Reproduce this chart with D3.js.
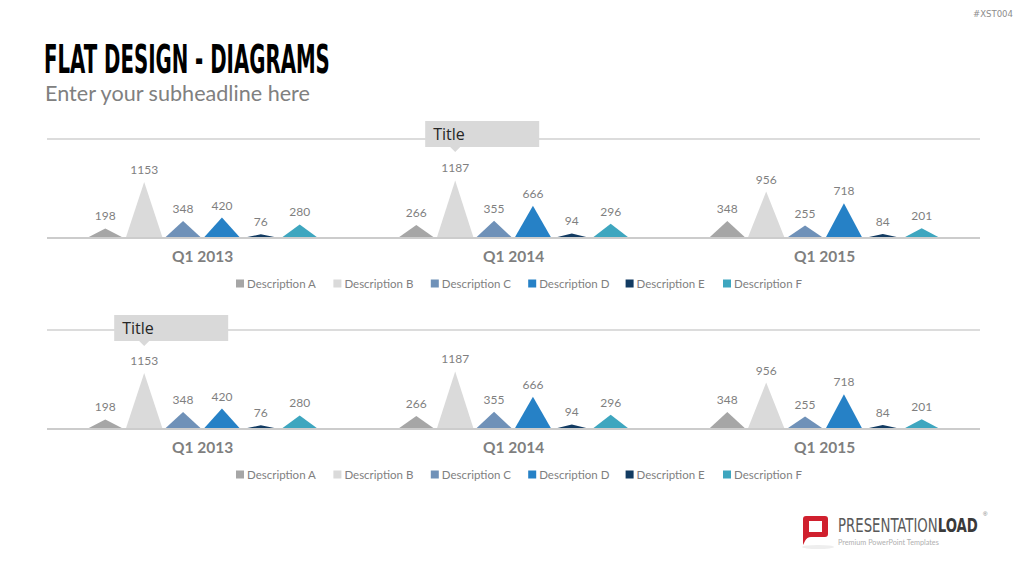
<!DOCTYPE html>
<html>
<head>
<meta charset="utf-8">
<script src="https://cdn.jsdelivr.net/npm/d3@7"></script>
<style>
  html, body { margin: 0; padding: 0; background: #ffffff; }
  svg { display: block; }
</style>
</head>
<body>
<svg id="chart" width="1024" height="576"></svg>
<script>
// ---------- data ----------
const categories = ["Q1 2013", "Q1 2014", "Q1 2015"];
const seriesNames = ["Description A", "Description B", "Description C", "Description D", "Description E", "Description F"];
const valuesA = [198, 266, 348];
const valuesB = [1153, 1187, 956];
const valuesC = [348, 355, 255];
const valuesD = [420, 666, 718];
const valuesE = [76, 94, 84];
const valuesF = [280, 296, 201];
const seriesColors = ["#a6a6a6", "#dadada", "#6f91b8", "#2681c6", "#123b62", "#3ea6bf"];
const panelTitles = ["Title", "Title"];
// which bar each title callout points to: [category index, series index]
const calloutTargets = [[1, 1], [0, 1]];

const seriesValues = [valuesA, valuesB, valuesC, valuesD, valuesE, valuesF];

const svg = d3.select("#chart");
const sansFont = "Lato, 'Open Sans', 'Noto Sans', sans-serif";

// fit a text element horizontally to a target width by scaling
function fitWidth(sel, x, y, width, sy) {
  const w = sel.node().getComputedTextLength();
  sel.attr("transform", `translate(${x},${y}) scale(${width / w},${sy || 1})`);
}

// ---------- header ----------
const title = svg.append("text")
  .attr("font-family", "'Liberation Sans Narrow', 'DejaVu Sans Condensed', sans-serif")
  .attr("font-weight", "bold")
  .attr("font-size", 35)
  .attr("fill", "#000000")
  .text("FLAT DESIGN - DIAGRAMS");
fitWidth(title, 44, 73, 286, 1.1);

const sub = svg.append("text")
  .attr("font-family", sansFont)
  .attr("font-size", 21)
  .attr("fill", "#808080")
  .text("Enter your subheadline here");
fitWidth(sub, 45, 101, 265);

svg.append("text")
  .attr("x", 1013).attr("y", 17)
  .attr("text-anchor", "end")
  .attr("font-family", "'DejaVu Sans Condensed', sans-serif")
  .attr("font-size", 9.5)
  .attr("fill", "#8c8c8c")
  .text("#XST004");

// ---------- scales ----------
const x0 = d3.scaleBand().domain(categories).range([47, 980]).padding(0);
const x1 = d3.scaleBand().domain(seriesNames).range([0, x0.bandwidth()]).paddingInner(0).paddingOuter(1);
const h = d3.scaleLinear().domain([0, 2060]).range([0, 100]);

function drawPanel(offsetY, titleText, target, boxTop) {
  const g = svg.append("g").attr("transform", `translate(0,${offsetY})`);
  const gridY = 139, baseY = 238;

  // top gridline
  g.append("line")
    .attr("x1", 47).attr("x2", 980).attr("y1", gridY).attr("y2", gridY)
    .attr("stroke", "#dcdcdc").attr("stroke-width", 2);

  // triangles
  const triW = x1.bandwidth() * 0.95;
  categories.forEach((cat, ci) => {
    seriesNames.forEach((s, si) => {
      const v = seriesValues[si][ci];
      const cx = x0(cat) + x1(s) + x1.bandwidth() / 2;
      const top = baseY - h(v);
      g.append("path")
        .attr("d", `M${cx - triW / 2},${baseY} L${cx},${top} L${cx + triW / 2},${baseY} Z`)
        .attr("fill", seriesColors[si]);
      g.append("text")
        .attr("x", cx).attr("y", top - 8)
        .attr("text-anchor", "middle")
        .attr("font-family", sansFont)
        .attr("font-size", 12)
        .attr("fill", "#7f7f7f")
        .text(v);
    });
    g.append("text")
      .attr("x", x0(cat) + x0.bandwidth() / 2).attr("y", baseY + 24)
      .attr("text-anchor", "middle")
      .attr("font-family", sansFont)
      .attr("font-weight", "bold")
      .attr("font-size", 15.5)
      .attr("fill", "#7f7f7f")
      .text(cat);
  });

  // baseline
  g.append("line")
    .attr("x1", 47).attr("x2", 980).attr("y1", baseY).attr("y2", baseY)
    .attr("stroke", "#cccccc").attr("stroke-width", 2);

  // title callout
  const px = x0(categories[target[0]]) + x1(seriesNames[target[1]]) + x1.bandwidth() / 2;
  const bx = px - 30, by = boxTop, bw = 114, bh = 26;
  g.append("path")
    .attr("d", `M${bx},${by} H${bx + bw} V${by + bh} H${px + 5} L${px},${by + bh + 5} L${px - 5},${by + bh} H${bx} Z`)
    .attr("fill", "#d9d9d9");
  g.append("text")
    .attr("x", bx + 8).attr("y", by + 19)
    .attr("font-family", "'Open Sans', sans-serif")
    .attr("font-size", 16)
    .attr("fill", "#262626")
    .text(titleText);

  // legend
  const legY = 284;
  const leg = g.append("g");
  seriesNames.forEach((s, si) => {
    const lx = 236 + si * 97.4;
    leg.append("rect")
      .attr("x", lx).attr("y", legY - 4.5).attr("width", 8).attr("height", 8)
      .attr("fill", seriesColors[si]);
    leg.append("text")
      .attr("x", lx + 11).attr("y", legY + 4)
      .attr("font-family", sansFont)
      .attr("font-size", 11.5)
      .attr("fill", "#7f7f7f")
      .text(s);
  });
}

drawPanel(0, panelTitles[0], calloutTargets[0], 121);
drawPanel(191, panelTitles[1], calloutTargets[1], 124);

// ---------- logo ----------
const logo = svg.append("g");
logo.append("ellipse").attr("cx", 818).attr("cy", 547).attr("rx", 16).attr("ry", 2).attr("fill", "#eeeeee");
logo.append("path")
  .attr("d", "M806,516 H825 Q828,516 828,519 V534 Q828,537 825,537 H811 Q807,537 805,541 L803,545 V519 Q803,516 806,516 Z")
  .attr("fill", "#d0202e");
logo.append("rect").attr("x", 809).attr("y", 521).attr("width", 13).attr("height", 11).attr("fill", "#ffffff");
const brand = logo.append("text")
  .attr("font-family", "'Liberation Sans Narrow', 'DejaVu Sans Condensed', sans-serif")
  .attr("font-size", 18)
  .attr("fill", "#5a5a5a")
  .html("PRESENTATION<tspan font-weight='bold' fill='#3a3a3a'>LOAD</tspan>");
fitWidth(brand, 838, 532, 140, 1.08);
logo.append("text")
  .attr("x", 983).attr("y", 516)
  .attr("font-family", "sans-serif")
  .attr("font-size", 6)
  .attr("fill", "#777777")
  .text("®");
const tag = logo.append("text")
  .attr("font-family", sansFont)
  .attr("font-size", 7)
  .attr("fill", "#b0b0b0")
  .text("Premium PowerPoint Templates");
fitWidth(tag, 838, 545, 101);
</script>
</body>
</html>
